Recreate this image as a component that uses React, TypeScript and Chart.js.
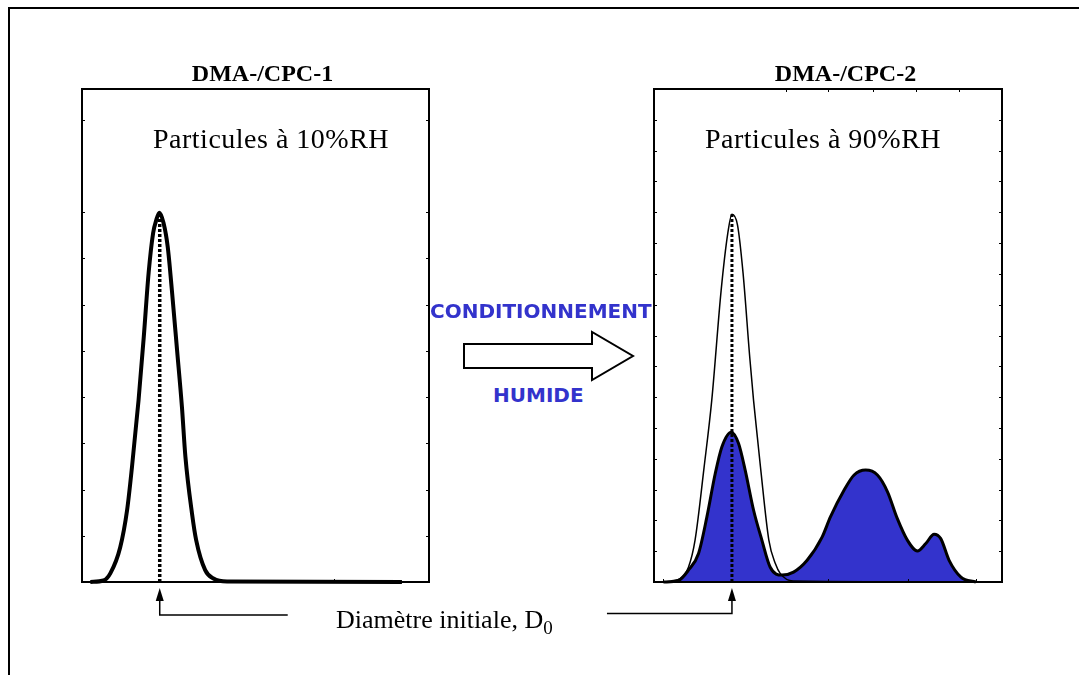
import React, { useEffect, useRef } from "react";
import { Chart, registerables } from "chart.js";

Chart.register(...registerables);

// ---- Data (x: diameter, arbitrary units 0-100 ; y: normalised number concentration 0-100) ----
const DRY_X = [2.4, 6.2, 8.2, 11.0, 13.0, 14.4, 16.3, 17.8, 19.2, 20.5, 21.4, 22.3, 23.5, 24.7, 25.9, 27.4, 28.8, 29.8, 31.7, 32.9, 35.5, 37.9, 41.8, 92.2];
const DRY_Y = [0, 0.3, 1.8, 7.0, 14.6, 23.3, 36.9, 49.7, 62.7, 70.8, 73.4, 74.9, 72.8, 68.0, 59.2, 47.0, 35.5, 25.4, 13.9, 8.5, 2.4, 0.7, 0.1, 0];

const REF_X = [2.7, 7.5, 9.9, 11.8, 14.4, 16.6, 19.3, 21.2, 22.4, 24.0, 25.6, 27.5, 28.6, 29.7, 30.6, 33.0, 34.9, 36.3, 40.0, 92.5];
const REF_Y = [0, 0.7, 3.0, 8.5, 23.3, 36.9, 59.2, 70.7, 74.6, 72.4, 62.6, 45.7, 36.9, 29.4, 23.3, 8.5, 3.7, 1.7, 0.2, 0];

const HUMID_X = [2.7, 7.0, 9.9, 12.8, 15.2, 17.6, 19.5, 22.2, 24.3, 26.2, 28.6, 31.0, 33.4, 36.8, 40.1, 44.0, 48.3, 50.7, 54.6, 57.5, 60.8, 64.2, 67.1, 69.9, 72.8, 75.7, 78.1, 80.5, 82.4, 84.8, 88.2, 92.5];
const HUMID_Y = [0, 0.3, 2.4, 5.8, 13.2, 22.0, 27.4, 30.4, 28.1, 22.7, 14.6, 8.5, 3.0, 1.4, 2.0, 4.4, 9.1, 13.2, 18.6, 21.7, 22.7, 21.7, 18.3, 12.9, 8.5, 6.3, 7.8, 9.7, 8.8, 4.4, 1.0, 0];

const D0 = 22.4;
const D0_TOP_LEFT = 74.9;
const D0_TOP_RIGHT = 74.6;

const LEFT_Y_TICKS = [9.375, 18.75, 28.125, 37.5, 46.875, 56.25, 65.625, 75, 93.75];
const LEFT_X_TICKS_BOTTOM = [72.7];
const LEFT_X_TICKS_TOP: number[] = [];
const RIGHT_Y_TICKS = [6.25, 12.5, 18.75, 25, 31.25, 37.5, 43.75, 50, 56.25, 62.5, 68.75, 75, 81.25, 87.5, 93.75];
const RIGHT_X_TICKS_TOP = [37.8, 50.1, 62.8, 75.2, 87.6];
const RIGHT_X_TICKS_BOTTOM = [2.6, 50.1, 72.9, 92.5];

const PANEL_TITLES = ["DMA-/CPC-1", "DMA-/CPC-2"];
const PANEL_SUBTITLES = ["Particules à 10%RH", "Particules à 90%RH"];
const PROCESS_LABELS = ["CONDITIONNEMENT", "HUMIDE"];
const D0_LABEL = "Diamètre initiale, D";
const D0_SUB = "0";

const BLUE = "#3333cc";

const zip = (xs: number[], ys: number[]) => xs.map((x, i) => ({ x, y: ys[i] }));

const framePlugin = {
  id: "panelFrame",
  afterDatasetsDraw(chart: any, _args: any, opts: any) {
    const { ctx, chartArea, scales } = chart;
    const { left, top, right, bottom } = chartArea;
    const x = scales.x;
    const y = scales.y;
    ctx.save();
    ctx.strokeStyle = "#000";
    ctx.fillStyle = "#000";
    ctx.lineWidth = 2;
    ctx.strokeRect(left, top, right - left, bottom - top);
    ctx.lineWidth = 1;
    ctx.beginPath();
    (opts.yTicks || []).forEach((v: number) => {
      const py = Math.round(y.getPixelForValue(v)) + 0.5;
      ctx.moveTo(left, py);
      ctx.lineTo(left + 3, py);
      ctx.moveTo(right, py);
      ctx.lineTo(right - 3, py);
    });
    (opts.xTop || []).forEach((v: number) => {
      const px = Math.round(x.getPixelForValue(v)) + 0.5;
      ctx.moveTo(px, top);
      ctx.lineTo(px, top + 3);
    });
    (opts.xBottom || []).forEach((v: number) => {
      const px = Math.round(x.getPixelForValue(v)) + 0.5;
      ctx.moveTo(px, bottom);
      ctx.lineTo(px, bottom - 3);
    });
    ctx.stroke();

    // D0 pointer arrow below the panel
    const px = x.getPixelForValue(opts.d0);
    ctx.lineWidth = 1.5;
    ctx.beginPath();
    ctx.moveTo(px, bottom + 18);
    ctx.lineTo(px, bottom + opts.arrowY);
    ctx.lineTo(px + opts.arrowDx, bottom + opts.arrowY);
    ctx.stroke();
    ctx.beginPath();
    ctx.moveTo(px, bottom + 6);
    ctx.lineTo(px - 4, bottom + 19);
    ctx.lineTo(px + 4, bottom + 19);
    ctx.closePath();
    ctx.fill();
    ctx.restore();
  },
};

function makeChart(canvas: HTMLCanvasElement, datasets: any[], padding: any, frameOpts: any) {
  return new Chart(canvas, {
    type: "line",
    data: { datasets },
    options: {
      animation: false,
      responsive: false,
      devicePixelRatio: 1,
      layout: { padding },
      plugins: {
        legend: { display: false },
        tooltip: { enabled: false },
        panelFrame: frameOpts,
      } as any,
      elements: { point: { radius: 0 } },
      scales: {
        x: { type: "linear", min: 0, max: 100, display: false },
        y: { type: "linear", min: 0, max: 100, display: false },
      },
    },
    plugins: [framePlugin],
  });
}

function Panel(props: { left: number; top: number; width: number; height: number; build: (c: HTMLCanvasElement) => Chart }) {
  const ref = useRef<HTMLCanvasElement | null>(null);
  useEffect(() => {
    if (!ref.current) return;
    const chart = props.build(ref.current);
    return () => chart.destroy();
  }, []);
  return (
    <canvas
      ref={ref}
      width={props.width}
      height={props.height}
      style={{ position: "absolute", left: props.left, top: props.top, width: props.width, height: props.height }}
    />
  );
}

const serif = "'Liberation Serif', 'Times New Roman', serif";
const sans = "'DejaVu Sans', sans-serif";

function Text(props: { left: number; baseline: number; size: number; bold?: boolean; color?: string; family?: string; center?: boolean; spacing?: number; children: any }) {
  const fam = props.family || serif;
  const k = fam === sans ? 0.846 : 0.8375;
  const style: any = {
    position: "absolute",
    top: props.baseline - k * props.size,
    fontFamily: fam,
    fontSize: props.size,
    lineHeight: props.size + "px",
    fontWeight: props.bold ? "bold" : "normal",
    color: props.color || "#000",
    whiteSpace: "nowrap",
    letterSpacing: props.spacing ? props.spacing + "px" : undefined,
    zIndex: 2,
  };
  if (props.center) {
    style.left = props.left - 200;
    style.width = 400;
    style.textAlign = "center";
  } else {
    style.left = props.left;
  }
  return <div style={style}>{props.children}</div>;
}

export default function App() {
  const buildLeft = (c: HTMLCanvasElement) =>
    makeChart(
      c,
      [
        { data: zip([D0, D0], [0, D0_TOP_LEFT]), borderColor: "#000", borderWidth: 3.5, borderDash: [3, 2], fill: false, clip: false },
        { data: zip(DRY_X, DRY_Y), borderColor: "#000", borderWidth: 4, fill: false, cubicInterpolationMode: "monotone", clip: false },
      ],
      { left: 12, right: 12, top: 12, bottom: 48 },
      { yTicks: LEFT_Y_TICKS, xTop: LEFT_X_TICKS_TOP, xBottom: LEFT_X_TICKS_BOTTOM, d0: D0, arrowDx: 128, arrowY: 33 }
    );
  const buildRight = (c: HTMLCanvasElement) =>
    makeChart(
      c,
      [
        { data: zip([D0, D0], [0, D0_TOP_RIGHT]), borderColor: "#000", borderWidth: 3, borderDash: [3, 2], fill: false, clip: false },
        { data: zip(REF_X, REF_Y), borderColor: "#000", borderWidth: 1.5, fill: false, cubicInterpolationMode: "monotone", clip: false },
        { data: zip(HUMID_X, HUMID_Y), borderColor: "#000", borderWidth: 3, backgroundColor: BLUE, fill: "origin", cubicInterpolationMode: "monotone", clip: false },
      ],
      { left: 60, right: 12, top: 12, bottom: 48 },
      { yTicks: RIGHT_Y_TICKS, xTop: RIGHT_X_TICKS_TOP, xBottom: RIGHT_X_TICKS_BOTTOM, d0: D0, arrowDx: -125, arrowY: 31.5 }
    );

  return (
    <div style={{ position: "fixed", left: 0, top: 0, width: 1079, height: 675, background: "#fff", overflow: "hidden" }}>
      <svg width={1079} height={675} style={{ position: "absolute", left: 0, top: 0 }}>
        <path d="M9 675 V8 H1079" fill="none" stroke="#000" strokeWidth={2} />
        <polygon points="464,344 592,344 592,332 633,356 592,380 592,368 464,368" fill="#fff" stroke="#000" strokeWidth={2} strokeLinejoin="miter" />
      </svg>
      <Panel left={70} top={77} width={371} height={553} build={buildLeft} />
      <Panel left={594} top={77} width={420} height={553} build={buildRight} />

      <Text left={262.5} baseline={81} size={24} bold center>{PANEL_TITLES[0]}</Text>
      <Text left={845.5} baseline={81} size={24} bold center>{PANEL_TITLES[1]}</Text>
      <Text left={153} baseline={148.5} size={28} spacing={0.5}>{PANEL_SUBTITLES[0]}</Text>
      <Text left={705} baseline={148.5} size={28} spacing={0.5}>{PANEL_SUBTITLES[1]}</Text>
      <Text left={430} baseline={318} size={20} bold color={BLUE} family={sans}>{PROCESS_LABELS[0]}</Text>
      <Text left={493} baseline={402} size={20} bold color={BLUE} family={sans}>{PROCESS_LABELS[1]}</Text>
      <Text left={336} baseline={629} size={26}>
        {D0_LABEL}
        <span style={{ fontSize: 19, position: "relative", top: 6 }}>{D0_SUB}</span>
      </Text>
    </div>
  );
}
